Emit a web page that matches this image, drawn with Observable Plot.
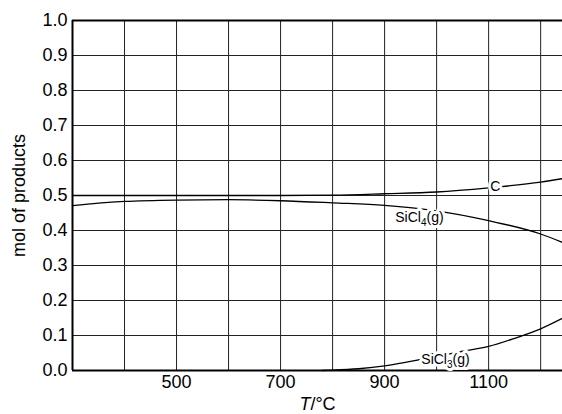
<!DOCTYPE html>
<html><head><meta charset="utf-8">
<script src="https://cdn.jsdelivr.net/npm/d3@7"></script>
<script src="https://cdn.jsdelivr.net/npm/@observablehq/plot@0.6"></script>
<style>
body{margin:0;background:#fff}
svg{font-family:"Liberation Sans",Arial,Helvetica,sans-serif}
</style>
</head><body><div id="chart"></div>
<script>
// Data
const cTemps = [300,400,500,600,700,800,900,1000,1100,1200,1242];
const cMol   = [0.5,0.5,0.5,0.5,0.5,0.501,0.505,0.51,0.522,0.538,0.548];
const sicl4Temps = [300,350,400,500,600,700,800,900,1000,1100,1200,1242];
const sicl4Mol   = [0.471,0.478,0.483,0.487,0.488,0.485,0.479,0.472,0.456,0.428,0.39,0.366];
const sicl3Temps = [780,800,850,900,950,1000,1050,1100,1150,1200,1242];
const sicl3Mol   = [0,0.001,0.005,0.013,0.026,0.04,0.055,0.069,0.092,0.119,0.149];

const xTicks = [500,700,900,1100];
const xGrid = [400,500,600,700,800,900,1000,1100,1200];
const yTicks = [0,0.1,0.2,0.3,0.4,0.5,0.6,0.7,0.8,0.9,1.0];
const yGrid = [0.1,0.2,0.3,0.4,0.5,0.6,0.7,0.8,0.9];

const labelNames = ["C","SiCl4(g)","SiCl3(g)"];
const labelTemps = [1113, 967, 1017];
const labelMol   = [0.526, 0.436, 0.031];

const yTitle = "mol of products";
const xTitle = "T/°C";

const toRows = (ts, vs, s) => ts.map((t,i)=>({T:t, mol:vs[i], s}));
const rows = [
  ...toRows(cTemps, cMol, "C"),
  ...toRows(sicl4Temps, sicl4Mol, "SiCl4"),
  ...toRows(sicl3Temps, sicl3Mol, "SiCl3")
];
const labels = labelNames.map((n,i)=>({name:n, T:labelTemps[i], mol:labelMol[i]}));

const chart = Plot.plot({
  width: 562, height: 414,
  marginLeft: 72, marginRight: 0, marginTop: 20, marginBottom: 44,
  x: {domain: [300, 1242]},
  y: {domain: [0, 1]},
  style: {fontSize: "18px", fontFamily: '"Liberation Sans",Arial,sans-serif', background: "#fff", color: "#000"},
  marks: [
    Plot.gridX(xGrid, {stroke: "#222", strokeOpacity: 1, strokeWidth: 1}),
    Plot.gridY(yGrid, {stroke: "#222", strokeOpacity: 1, strokeWidth: 1}),
    Plot.axisX(xTicks, {tickSize: 0, tickPadding: 5, tickFormat: "d", label: null, fontSize: 18}),
    Plot.axisY(yTicks, {tickSize: 0, tickPadding: 5, tickFormat: ".1f", label: null, fontSize: 18}),
    Plot.ruleY([0, 1], {stroke: "#000", strokeWidth: 2}),
    Plot.ruleX([300], {stroke: "#000", strokeWidth: 2}),
    Plot.line(rows, {x: "T", y: "mol", z: "s", stroke: "#000", strokeWidth: 1.3, curve: "monotone-x"}),
    Plot.text(labels, {x: "T", y: "mol", text: "name", fill: "#fff", stroke: "#fff", strokeWidth: 6, fontSize: 14}),
    Plot.text(labels, {x: "T", y: "mol", text: "name", fill: "#000", fontSize: 14}),
    Plot.text([yTitle], {frameAnchor: "left", dx: -53, rotate: -90, textAnchor: "middle", fontSize: 18, fill: "#000"}),
    Plot.text([xTitle], {frameAnchor: "bottom", dy: 39, textAnchor: "middle", fontSize: 18, fill: "#000"})
  ]
});
document.getElementById("chart").appendChild(chart);

d3.select(chart).selectAll("text").each(function(){
  const el = d3.select(this);
  const t = el.text();
  const m = t.match(/^(SiCl)(\d)(\(g\))$/);
  if (m) {
    el.text("");
    el.append("tspan").text(m[1]);
    el.append("tspan").attr("font-size", 10).attr("dy", 4).text(m[2]);
    el.append("tspan").attr("dy", -4).text(m[3]);
  } else if (t === xTitle) {
    el.text("");
    el.append("tspan").attr("font-style", "italic").text(t.slice(0,1));
    el.append("tspan").text(t.slice(1));
  }
});
</script>
</body></html>
